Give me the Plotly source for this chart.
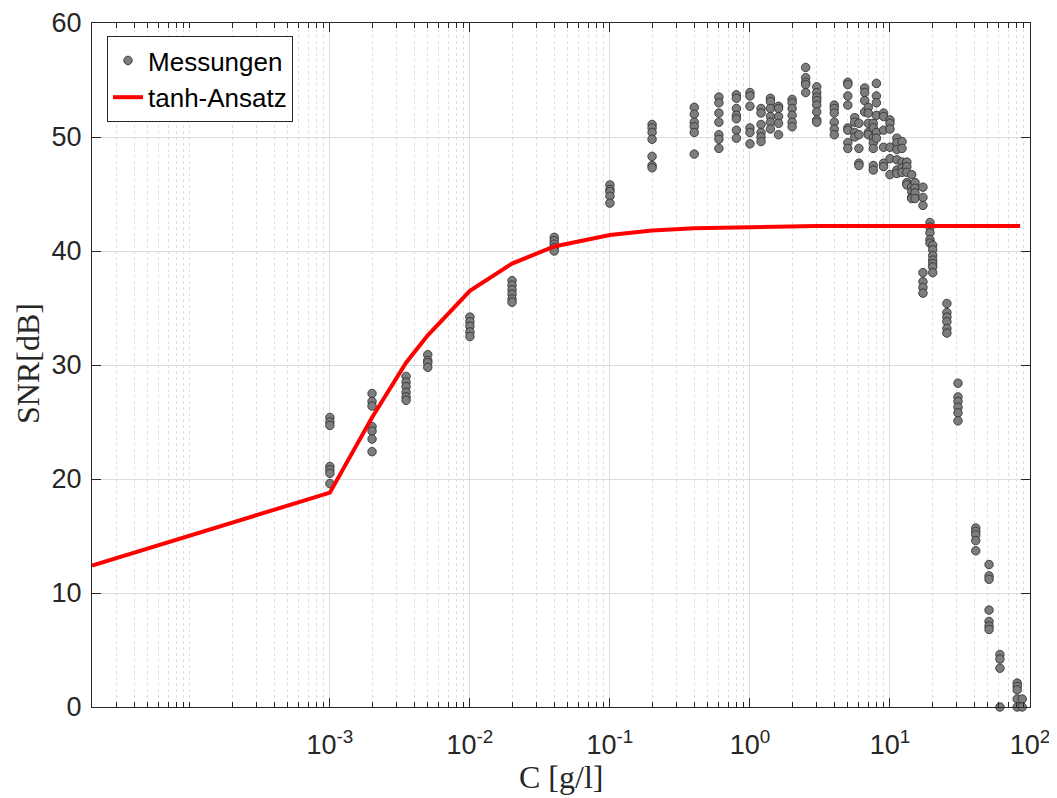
import numpy as np
import plotly.graph_objects as go

# --- Measurements (concentration levels and SNR readings at each level) ---
conc_levels = [0.001, 0.002, 0.0035, 0.005, 0.01, 0.02, 0.04, 0.1, 0.2, 0.4, 0.6, 0.8,
               1.0, 1.2, 1.4, 1.6, 2.0, 2.5, 3.0, 4.0, 5.0, 5.6, 6.0, 6.6, 7.0, 7.6,
               8.0, 9.0, 10.0, 11.2, 12.2, 13.2, 14.3, 15.1, 17.2, 19.3, 20.2, 25.5,
               30.6, 41.0, 51.0, 61.0, 81.0, 88.0]
snr_levels = [
    [25.4, 25.0, 24.7, 21.1, 20.8, 20.5, 19.6],
    [27.5, 26.8, 26.4, 24.6, 24.2, 23.5, 22.4],
    [29.0, 28.5, 28.1, 27.6, 27.2, 26.9],
    [30.9, 30.4, 30.2, 29.8],
    [34.2, 33.8, 33.4, 32.9, 32.5],
    [37.4, 37.0, 36.6, 36.2, 35.8, 35.5],
    [41.2, 40.9, 40.6, 40.3, 40.0],
    [45.8, 45.4, 45.2, 44.8, 44.2],
    [51.1, 50.8, 50.4, 49.8, 48.3, 47.5, 47.3],
    [52.6, 52.0, 51.3, 50.9, 50.4, 48.5],
    [53.5, 53.0, 52.1, 51.3, 50.2, 49.8, 49.0],
    [53.7, 53.4, 52.5, 51.9, 51.6, 50.6, 49.9],
    [53.9, 53.6, 52.7, 50.8, 50.4, 49.4],
    [52.5, 52.1, 51.1, 50.4, 50.0, 49.6],
    [53.4, 53.1, 52.5, 51.8, 51.3, 50.7],
    [52.7, 52.5, 51.8, 51.2, 50.2],
    [53.3, 53.0, 52.5, 51.9, 51.3, 50.9],
    [56.1, 55.2, 54.8, 54.6, 53.9],
    [54.4, 53.9, 53.5, 53.2, 52.8, 52.2, 51.5, 51.3],
    [52.8, 52.5, 52.1, 51.3, 50.7, 50.2],
    [54.8, 54.6, 53.6, 52.8, 50.8, 50.6, 49.5, 49.0],
    [51.7, 51.3, 50.4, 50.0],
    [51.2, 50.2, 49.0, 47.7, 47.5],
    [54.3, 53.9, 53.2, 52.2],
    [52.6, 52.1, 51.2, 50.4, 50.2],
    [51.2, 50.8, 49.9, 49.5, 49.0, 47.5, 47.1],
    [54.7, 53.6, 53.0, 51.9, 50.4, 49.9],
    [52.1, 51.8, 50.6, 49.1, 47.7, 47.4],
    [51.5, 51.2, 50.7, 49.1, 48.1, 46.7],
    [49.9, 49.5, 48.9, 48.0, 47.1, 46.8],
    [49.6, 49.0, 47.8, 47.3, 46.9],
    [47.8, 47.4, 46.9, 46.0, 45.8],
    [46.7, 45.6, 45.2, 44.7, 44.6],
    [46.0, 45.5, 45.1, 44.6],
    [45.6, 44.7, 44.0, 38.1, 37.3, 36.8, 36.3],
    [42.5, 42.1, 41.6, 41.0, 40.7],
    [40.5, 40.1, 39.6, 39.2, 38.9, 38.6, 38.1],
    [35.4, 34.6, 34.2, 33.8, 33.2, 32.8],
    [28.4, 27.2, 26.8, 26.3, 25.8, 25.1],
    [15.7, 15.4, 15.1, 14.6, 13.7],
    [12.5, 11.5, 11.2, 8.5, 7.5, 7.1, 6.8],
    [4.6, 4.2, 3.4, 0.0],
    [2.1, 1.8, 1.5, 0.7, 0.0],
    [0.7, 0.0],
]

# --- tanh fit curve ---
fit_c = [2e-5, 0.001, 0.002, 0.0035, 0.005, 0.01, 0.02, 0.04, 0.1, 0.2, 0.4, 1.0, 3.0, 10.0, 30.0, 85.0]
fit_snr = [12.4, 18.8, 25.4, 30.2, 32.6, 36.5, 38.9, 40.4, 41.4, 41.8, 42.0, 42.1, 42.2, 42.2, 42.2, 42.2]

x_tickvals = [1e-3, 1e-2, 1e-1, 1e0, 1e1, 1e2]
x_ticktext = ["10<sup>-3</sup>", "10<sup>-2</sup>", "10<sup>-1</sup>", "10<sup>0</sup>",
              "10<sup>1</sup>", "10<sup>2</sup>"]
y_tickvals = [0, 10, 20, 30, 40, 50, 60]

meas_c = [c for c, ys in zip(conc_levels, snr_levels) for _ in ys]
meas_snr = [v for ys in snr_levels for v in ys]

# minor ticks (2..9 per decade plus 1e-4)
minor_vals = []
for e in range(-5, 2):
    for m in range(1, 10):
        v = m * 10.0 ** e
        if 2e-5 <= v <= 100 and v not in x_tickvals:
            minor_vals.append(v)

axis_col = "#262626"
tick_font = dict(family="Liberation Sans, Arial", size=27, color=axis_col)
title_font = dict(family="Liberation Serif, DejaVu Serif", size=32, color=axis_col)

# page body has an 8px margin; figure is sized to fit the window
W, H = 1049, 790
ML, MR, MT, MB = 84, 27, 15, 91

fig = go.Figure()
fig.add_trace(go.Scatter(
    x=meas_c, y=meas_snr, mode="markers", name="Messungen",
    marker=dict(size=8.5, color="#7d7d7d", line=dict(color="#2a2a2a", width=0.8)),
    cliponaxis=False,
))
fig.add_trace(go.Scatter(
    x=fit_c, y=fit_snr, mode="lines", name="tanh-Ansatz",
    line=dict(color="#ff0000", width=4),
))

fig.update_layout(
    width=W, height=H,
    margin=dict(l=ML, r=MR, t=MT, b=MB, autoexpand=False),
    paper_bgcolor="white", plot_bgcolor="white",
    showlegend=True,
    legend=dict(
        x=0.016, y=0.981, xanchor="left", yanchor="top",
        bgcolor="white", bordercolor=axis_col, borderwidth=1,
        font=dict(family="Liberation Sans, Arial", size=26, color="black"),
        tracegroupgap=0, itemwidth=30,
    ),
    xaxis=dict(
        type="log", range=[np.log10(2e-5), 2],
        tickmode="array", tickvals=x_tickvals, ticktext=x_ticktext,
        ticks="inside", ticklen=9, tickwidth=1, tickcolor=axis_col,
        showline=True, linecolor=axis_col, linewidth=1, mirror="ticks",
        showgrid=True, gridcolor="#dcdcdc", gridwidth=1,
        tickfont=tick_font, ticklabelstandoff=14,
        minor=dict(tickvals=minor_vals, ticks="inside", ticklen=5, tickcolor=axis_col,
                   showgrid=True, gridcolor="#dedede", griddash="dot", gridwidth=1),
        zeroline=False,
    ),
    yaxis=dict(
        range=[0, 60], tickmode="array", tickvals=y_tickvals,
        ticks="inside", ticklen=9, tickwidth=1, tickcolor=axis_col,
        showline=True, linecolor=axis_col, linewidth=1, mirror="ticks",
        showgrid=True, gridcolor="#dcdcdc", gridwidth=1,
        tickfont=tick_font, ticklabelstandoff=4,
        zeroline=False,
    ),
)

# titles placed by screen-pixel position (screen = figure + 8px body margin)
def to_paper(sx, sy):
    left, right = 8 + ML, 8 + W - MR
    top, bottom = 8 + MT, 8 + H - MB
    return (sx - left) / (right - left), (bottom - sy) / (bottom - top)

ax, ay = to_paper(561, 777)
bx, by = to_paper(28, 364)
fig.add_annotation(text="C [g/l]", x=ax, y=ay, xref="paper", yref="paper",
                   xanchor="center", yanchor="middle", showarrow=False, font=title_font)
fig.add_annotation(text="SNR[dB]", x=bx, y=by, xref="paper", yref="paper", textangle=-90,
                   xanchor="center", yanchor="middle", showarrow=False, font=title_font)

fig.write_html("out.html")
